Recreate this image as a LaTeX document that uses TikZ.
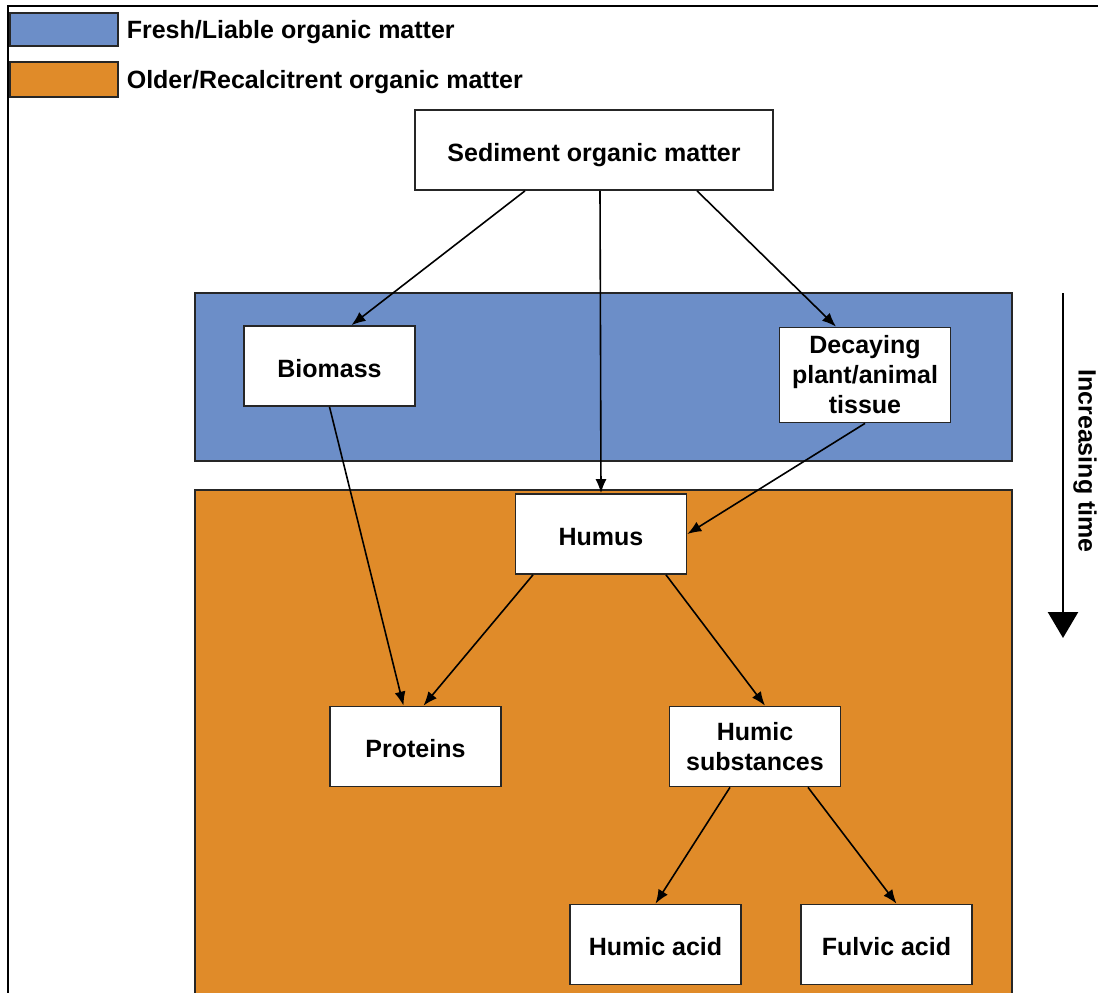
\documentclass[tikz,border=0pt]{standalone}
\usepackage{fontspec}
\setmainfont{Liberation Sans}
\usetikzlibrary{arrows.meta}
\definecolor{fresh}{RGB}{108,142,200}
\definecolor{older}{RGB}{224,139,41}
\tikzset{
  box/.style={draw=black!85, line width=1.7pt, fill=white, inner sep=0pt, minimum width=171pt, minimum height=80pt, align=center, font=\fontsize{25}{30}\selectfont\bfseries},
  oneline/.style={text height=22pt, text depth=0pt},
  band/.style={draw=black!85, line width=1.7pt}
}
\begin{document}
\begin{tikzpicture}[x=1pt, y=-1pt, >={Latex[length=14pt,width=11pt]}, line width=1.6pt]
\useasboundingbox (0,0) rectangle (1098,993);
\clip (0,0) rectangle (1098,993);

\draw [line width=1.7pt] (8,1010) -- (8,6) -- (1110,6);
\draw [band, fill=fresh] (10,13) rectangle (118,46);
\draw [band, fill=older] (10,62) rectangle (118,97);
\node (lfresh) [anchor=west, inner sep=0pt, font=\fontsize{25}{30}\selectfont\bfseries] at (126,32) {Fresh/Liable organic matter};
\node (lolder) [anchor=west, inner sep=0pt, font=\fontsize{25}{30}\selectfont\bfseries] at (126,82) {Older/Recalcitrent organic matter};

\draw [band, fill=fresh] (195,293) rectangle (1012,461);
\draw [band, fill=older] (195,490) rectangle (1012,1010);

\node (sed) [box, oneline, minimum width=358pt] at (594,150) {Sediment organic matter};
\node (bio) [box, oneline] at (329.5,366) {Biomass};
\node (dec) [box, minimum height=95pt] at (865,375) {Decaying\\plant/animal\\tissue};
\node (humus) [box, oneline] at (601,534) {Humus};
\node (prot) [box, oneline] at (415.5,746.5) {Proteins};
\node (hsub) [box] at (755,746.5) {Humic\\substances};
\node (hacid) [box, oneline] at (655.5,944.5) {Humic acid};
\node (facid) [box, oneline] at (886.5,944.5) {Fulvic acid};

\draw [->] ([xshift=-69pt]sed.south) to ([xshift=22pt]bio.north);
\draw [->] ([xshift=6pt]sed.south) to (humus.north);
\draw [->] ([xshift=103pt]sed.south) to ([xshift=-29pt]dec.north);
\draw [->] (bio.south) to ([xshift=-12pt]prot.north);
\draw [->] (dec.south) to (humus.east);
\draw [->] ([xshift=-68pt]humus.south) to ([xshift=8pt]prot.north);
\draw [->] ([xshift=65pt]humus.south) to ([xshift=10pt]hsub.north);
\draw [->] ([xshift=-25pt]hsub.south) to (hacid.north);
\draw [->] ([xshift=53pt]hsub.south) to ([xshift=10pt]facid.north);

\coordinate (tstart) at (1063,293);
\coordinate (tend) at (1063,638);
\draw [line width=2.5pt, -{Triangle[length=26pt,width=30pt]}] (tstart) to (tend);
\node (time) [rotate=-90, inner sep=0pt, font=\fontsize{25}{30}\selectfont\bfseries] at (1085,461) {Increasing time};
\end{tikzpicture}
\end{document}
